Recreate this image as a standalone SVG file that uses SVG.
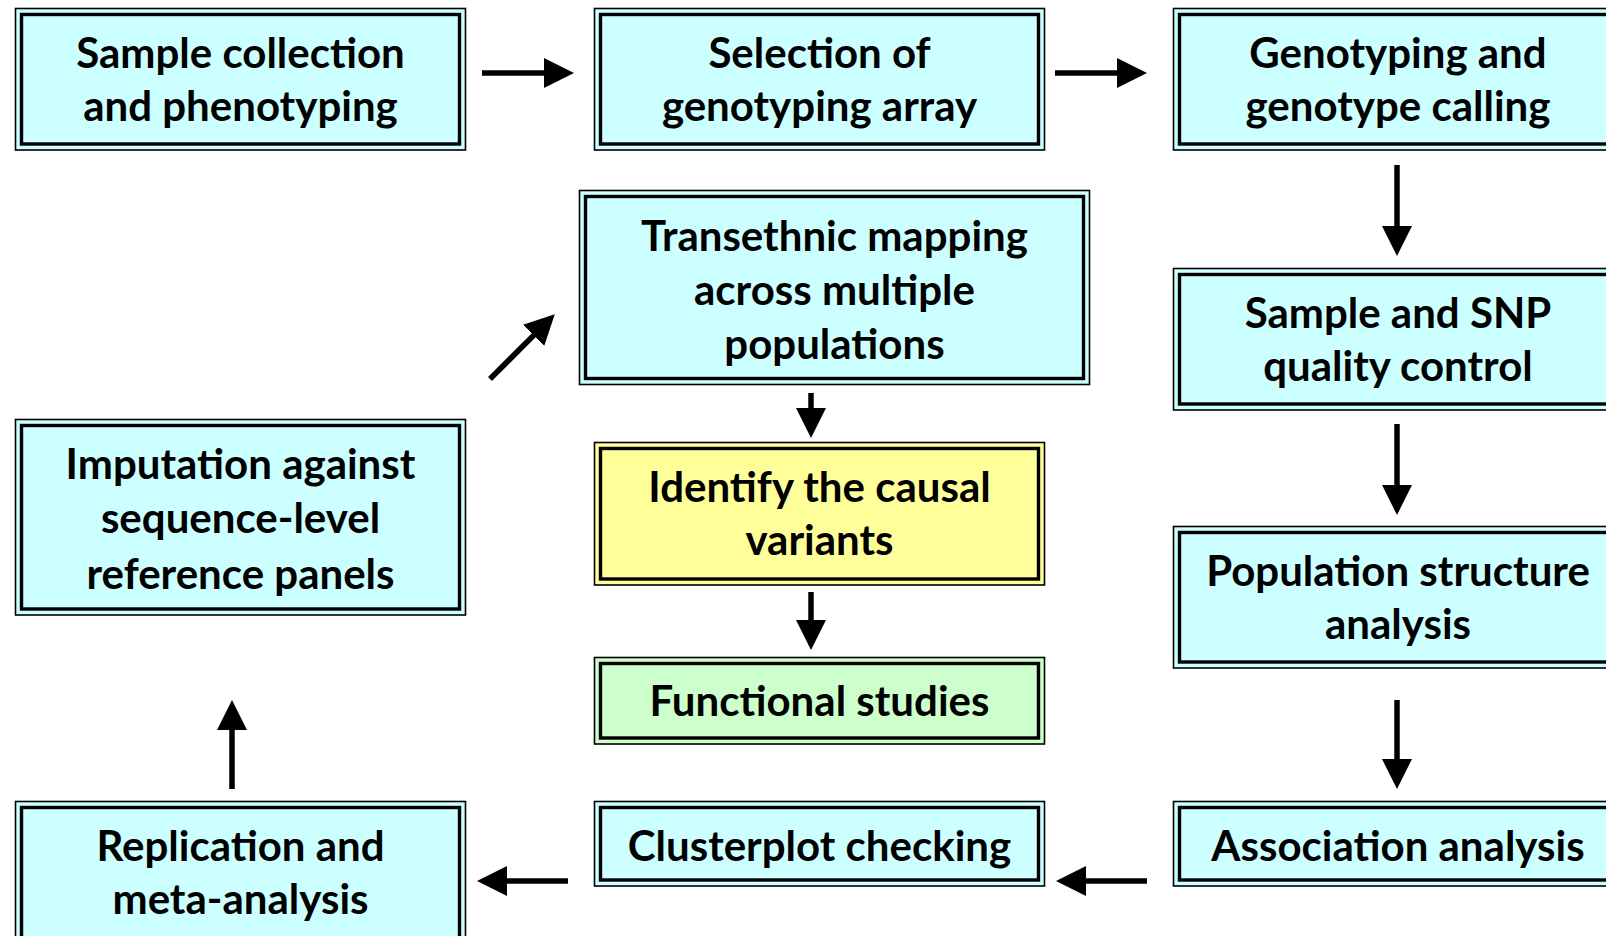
<svg xmlns="http://www.w3.org/2000/svg" width="1606" height="936" viewBox="0 0 1606 936">
<defs>
<style>
.outer{stroke:#000;stroke-width:1.6}
.inner{fill:none;stroke:#000;stroke-width:3.4}
.cyan{fill:#CCFFFF}
.yellow{fill:#FFFF99}
.green{fill:#CCFFCC}
text{font-family:"Lato","Liberation Sans",sans-serif;font-weight:bold;font-size:42px;fill:#000;text-anchor:middle}
.conn line{stroke:#000;stroke-width:5.5;marker-end:url(#ah)}
</style>
<marker id="ah" markerUnits="userSpaceOnUse" markerWidth="30" markerHeight="30" viewBox="0 0 30 30" refX="2" refY="15" orient="auto">
<path d="M0,0 L30,15 L0,30 Z" fill="#000"/>
</marker>
</defs>
<rect width="1606" height="936" fill="#fff"/>

<g id="sample-collection">
<rect class="outer cyan" x="15.5" y="8.5" width="450" height="141.5"/>
<rect class="inner" x="21.5" y="14.5" width="438" height="129.5"/>
<text x="240.5" y="68">Sample collection</text>
<text x="240.5" y="121">and phenotyping</text>
</g>

<g id="selection-array">
<rect class="outer cyan" x="594.5" y="8.5" width="450" height="141.5"/>
<rect class="inner" x="600.5" y="14.5" width="438" height="129.5"/>
<text x="819.5" y="68">Selection of</text>
<text x="819.5" y="121">genotyping array</text>
</g>

<g id="genotyping-calling">
<rect class="outer cyan" x="1173.5" y="8.5" width="450" height="141.5"/>
<rect class="inner" x="1179.5" y="14.5" width="438" height="129.5"/>
<text x="1398" y="68">Genotyping and</text>
<text x="1398" y="121">genotype calling</text>
</g>

<g id="transethnic-mapping">
<rect class="outer cyan" x="579.5" y="190.5" width="510" height="194"/>
<rect class="inner" x="585.5" y="196.5" width="498" height="182"/>
<text x="834.5" y="251">Transethnic mapping</text>
<text x="834.5" y="305">across multiple</text>
<text x="834.5" y="359">populations</text>
</g>

<g id="sample-snp-qc">
<rect class="outer cyan" x="1173.5" y="268.5" width="450" height="141.5"/>
<rect class="inner" x="1179.5" y="274.5" width="438" height="129.5"/>
<text x="1398" y="328">Sample and SNP</text>
<text x="1398" y="381">quality control</text>
</g>

<g id="imputation">
<rect class="outer cyan" x="15.5" y="419.5" width="450" height="195.5"/>
<rect class="inner" x="21.5" y="425.5" width="438" height="183.5"/>
<text x="240.5" y="479">Imputation against</text>
<text x="240.5" y="533">sequence-level</text>
<text x="240.5" y="589">reference panels</text>
</g>

<g id="identify-causal">
<rect class="outer yellow" x="594.5" y="442.5" width="450" height="142.5"/>
<rect class="inner" x="600.5" y="448.5" width="438" height="130.5"/>
<text x="819.5" y="502">Identify the causal</text>
<text x="819.5" y="555">variants</text>
</g>

<g id="population-structure">
<rect class="outer cyan" x="1173.5" y="526.5" width="450" height="141.5"/>
<rect class="inner" x="1179.5" y="532.5" width="438" height="129.5"/>
<text x="1398" y="586">Population structure</text>
<text x="1398" y="639">analysis</text>
</g>

<g id="functional-studies">
<rect class="outer green" x="594.5" y="657.5" width="450" height="86.5"/>
<rect class="inner" x="600.5" y="663.5" width="438" height="74.5"/>
<text x="819.5" y="716">Functional studies</text>
</g>

<g id="replication">
<rect class="outer cyan" x="15.5" y="801.5" width="450" height="150"/>
<rect class="inner" x="21.5" y="807.5" width="438" height="150"/>
<text x="240.5" y="861">Replication and</text>
<text x="240.5" y="914">meta-analysis</text>
</g>

<g id="clusterplot">
<rect class="outer cyan" x="594.5" y="801.5" width="450" height="84.5"/>
<rect class="inner" x="600.5" y="807.5" width="438" height="72.5"/>
<text x="819.5" y="861">Clusterplot checking</text>
</g>

<g id="association">
<rect class="outer cyan" x="1173.5" y="801.5" width="450" height="84.5"/>
<rect class="inner" x="1179.5" y="807.5" width="438" height="72.5"/>
<text x="1398" y="861">Association analysis</text>
</g>

<g id="connectors" class="conn">
<line x1="482" y1="73" x2="546" y2="73"/>
<line x1="1055" y1="73" x2="1119" y2="73"/>
<line x1="1397" y1="165" x2="1397" y2="228"/>
<line x1="1397" y1="424" x2="1397" y2="487"/>
<line x1="1397" y1="700" x2="1397" y2="761"/>
<line x1="1147" y1="881" x2="1084" y2="881"/>
<line x1="568" y1="881" x2="505" y2="881"/>
<line x1="232" y1="789" x2="232" y2="728"/>
<line x1="490" y1="379" x2="535" y2="334"/>
<line x1="811" y1="393" x2="811" y2="410"/>
<line x1="811" y1="592" x2="811" y2="622"/>
</g>
</svg>
